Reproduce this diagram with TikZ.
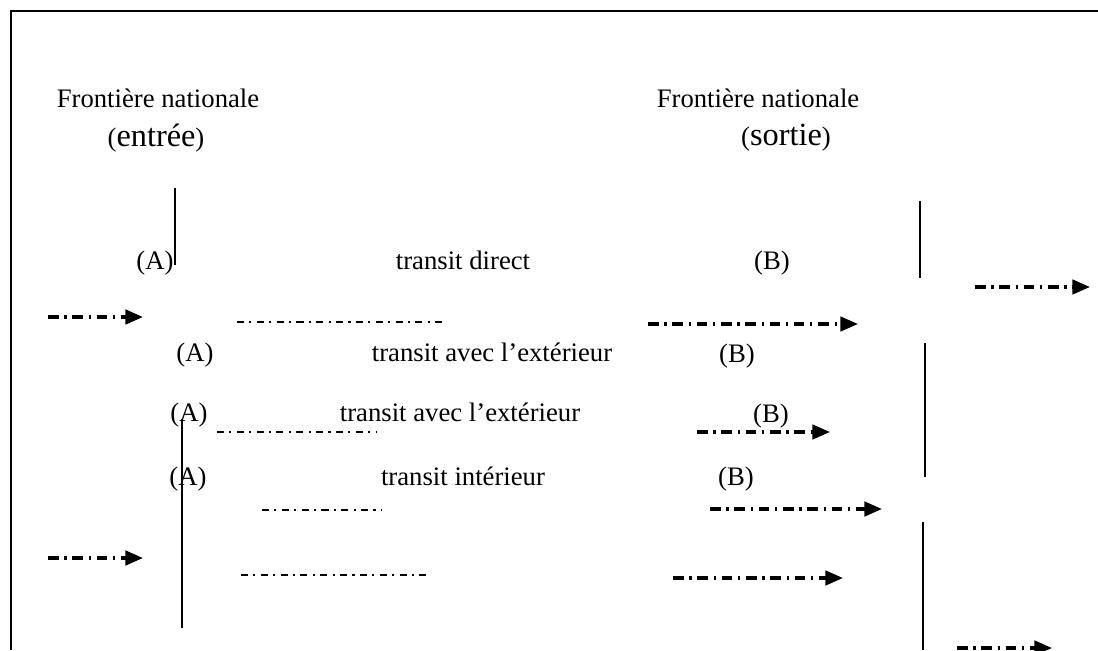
\documentclass[tikz,border=0pt]{standalone}
\usepackage{fontspec}
\setmainfont{Liberation Serif}
\usetikzlibrary{arrows.meta}

\begin{document}
\begin{tikzpicture}[
    lbl/.style={anchor=base, inner sep=0pt, font=\fontsize{19}{23}\selectfont},
    border/.style={line width=1.7pt},
    flow/.style={-{Triangle[length=0.44cm, width=0.36cm]}, line width=2.4pt,
                 dash pattern=on 7.5pt off 4.1pt on 1.6pt off 4.1pt},
    trace/.style={line width=1.6pt, dash pattern=on 5pt off 3.8pt on 1.5pt off 3.8pt}]
  \useasboundingbox (0,0) rectangle (27.45,-16.25);

  % open frame
  \draw[border] (0.275,-16.25) -- (0.275,-0.275) -- (27.45,-0.275);

  % headings
  \node[lbl] (entryT) at (3.95,-2.675) {Frontière nationale};
  \node[lbl] (entryS) at (3.9,-3.65) {({\fontsize{23}{27}\selectfont entrée})};
  \node[lbl] (exitT) at (18.95,-2.675) {Frontière nationale};
  \node[lbl] (exitS) at (19.65,-3.625) {({\fontsize{23}{27}\selectfont sortie})};

  % frontier posts
  \draw[border] (4.375,-4.7) -- (4.375,-6.625);
  \draw[border] (23.0,-5.025) -- (23.0,-6.95);
  \draw[border] (23.125,-8.575) -- (23.125,-11.925);
  \draw[border] (4.55,-10.475) -- (4.55,-15.7);
  \draw[border] (23.075,-13.05) -- (23.075,-16.25);

  % transit kinds
  \node[lbl] (a1) at (3.875,-6.725) {(A)};
  \node[lbl] (t1) at (11.575,-6.725) {transit direct};
  \node[lbl] (b1) at (19.3,-6.725) {(B)};

  \node[lbl] (a2) at (4.875,-9.025) {(A)};
  \node[lbl] (t2) at (12.3,-9.025) {transit avec l’extérieur};
  \node[lbl] (b2) at (18.425,-9.05) {(B)};

  \node[lbl] (a3) at (4.725,-10.525) {(A)};
  \node[lbl] (t3) at (11.5,-10.525) {transit avec l’extérieur};
  \node[lbl] (b3) at (19.275,-10.55) {(B)};

  \node[lbl] (a4) at (4.7,-12.125) {(A)};
  \node[lbl] (t4) at (11.575,-12.125) {transit intérieur};
  \node[lbl] (b4) at (18.4,-12.125) {(B)};

  % goods flows
  \draw[flow] (1.2,-7.925) -- (3.575,-7.925);
  \draw[trace] (5.925,-8.05) -- (11.175,-8.05);
  \draw[flow] (16.2,-8.1) -- (21.45,-8.1);
  \draw[flow] (24.375,-7.175) -- (27.25,-7.175);

  \draw[trace] (5.425,-10.8) -- (9.425,-10.8);
  \draw[flow] (17.425,-10.8) -- (20.75,-10.8);

  \draw[trace] (6.55,-12.75) -- (9.55,-12.75);
  \draw[flow] (17.75,-12.725) -- (22.05,-12.725);

  \draw[flow] (1.2,-13.95) -- (3.575,-13.95);
  \draw[trace] (6.025,-14.375) -- (10.675,-14.375);
  \draw[flow] (16.825,-14.45) -- (21.075,-14.45);
  \draw[flow] (23.925,-16.2) -- (26.3,-16.2);
\end{tikzpicture}
\end{document}
